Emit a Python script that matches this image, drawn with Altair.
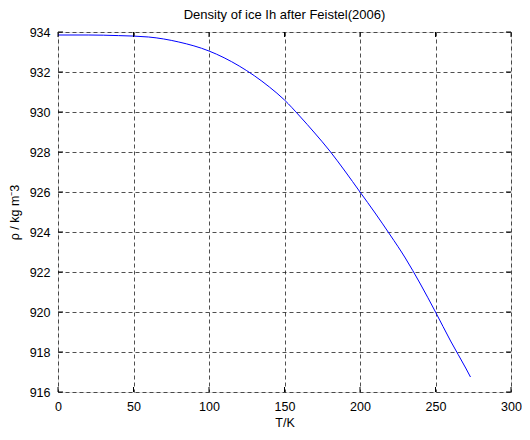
import altair as alt
import pandas as pd

# data
T = [0, 20, 40, 60, 80, 100, 120, 140, 150, 160, 170, 180, 190, 200,
     210, 220, 230, 240, 250, 260, 270, 273.16]
rho = [933.85, 933.85, 933.82, 933.75, 933.5, 933.05, 932.3, 931.25, 930.6,
       929.8, 928.95, 928.05, 927.05, 926.0, 924.95, 923.85, 922.7, 921.4,
       920.0, 918.55, 917.2, 916.75]
x_ticks = [0, 50, 100, 150, 200, 250, 300]
y_ticks = [916, 918, 920, 922, 924, 926, 928, 930, 932, 934]

W, H = 453, 360
FONT = "Liberation Sans"

df = pd.DataFrame({"T": T, "rho": rho})
dx = pd.DataFrame({"t": x_ticks})
dy = pd.DataFrame({"r": y_ticks})

xscale = alt.Scale(domain=[0, 300], nice=False, zero=False)
yscale = alt.Scale(domain=[916, 934], nice=False, zero=False)

grid_kw = dict(grid=True, gridDash=[4, 3], gridColor="#222222", gridWidth=0.8,
               gridOpacity=1, ticks=False, domain=False, labelOverlap=False,
               labelFlush=False, labelFont=FONT, titleFont=FONT,
               labelFontSize=12.5, titleFontSize=12.5, titleFontWeight="normal",
               labelColor="#000000", titleColor="#000000")

x_axis = alt.Axis(values=x_ticks, title="T/K", labelPadding=8, titlePadding=4,
                  **grid_kw)
y_axis = alt.Axis(values=y_ticks, title="ρ / kg m⁻3", labelPadding=8,
                  titlePadding=8, format="d", **grid_kw)

line = alt.Chart(df).mark_line(color="#0000ff", strokeWidth=1, clip=True,
                               interpolate="monotone").encode(
    x=alt.X("T:Q", scale=xscale, axis=x_axis),
    y=alt.Y("rho:Q", scale=yscale, axis=y_axis),
)

tick_style = dict(color="#000000", strokeWidth=1)
xb = alt.Chart(dx).mark_rule(**tick_style).encode(
    x=alt.X("t:Q", scale=xscale, axis=x_axis), y=alt.value(H), y2=alt.value(H - 5))
xt = alt.Chart(dx).mark_rule(**tick_style).encode(
    x=alt.X("t:Q", scale=xscale, axis=x_axis), y=alt.value(0), y2=alt.value(5))
yl = alt.Chart(dy).mark_rule(**tick_style).encode(
    y=alt.Y("r:Q", scale=yscale, axis=y_axis), x=alt.value(0), x2=alt.value(5))
yr = alt.Chart(dy).mark_rule(**tick_style).encode(
    y=alt.Y("r:Q", scale=yscale, axis=y_axis), x=alt.value(W), x2=alt.value(W - 5))

chart = alt.layer(line, xb, xt, yl, yr).properties(
    width=W, height=H,
    title=alt.Title("Density of ice Ih after Feistel(2006)", fontSize=13,
                    fontWeight="normal", font=FONT, offset=4.5,
                    color="#000000"),
    autosize=alt.AutoSizeParams(type="none"),
    padding={"left": 50, "top": 24, "right": 11, "bottom": 40},
).configure_view(stroke="#000000", strokeWidth=1.5).configure(background="white")

chart.save("out.html", embed_options={"renderer": "svg", "actions": False})
